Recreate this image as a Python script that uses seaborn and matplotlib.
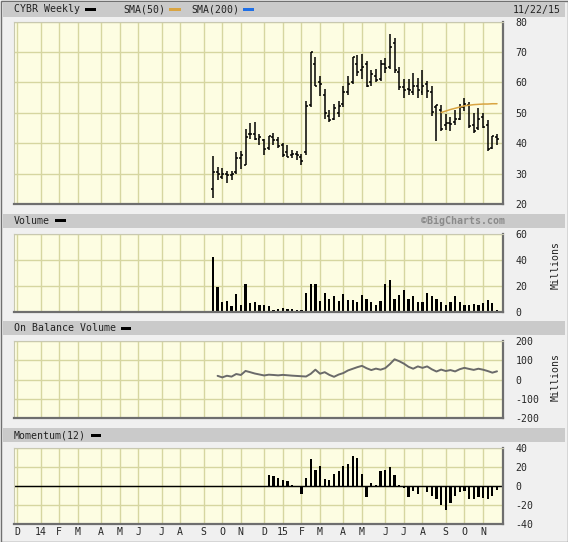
import numpy as np
import pandas as pd
import seaborn as sns
import matplotlib
matplotlib.use("Agg")
import matplotlib.pyplot as plt
from matplotlib.patches import Rectangle

# weekly bars, CYBR since IPO week
weeks = pd.date_range("2014-09-22", periods=62, freq="W-MON")

opens = [25.0, 30.5, 29.0, 30.0, 29.5, 30.5, 35.0, 33.0, 43.0, 43.0, 41.5, 41.0,
         38.5, 42.0, 41.0, 39.5, 37.0, 36.0, 36.5, 35.5, 37.0, 52.5, 66.0, 60.0,
         56.0, 49.0, 48.0, 50.0, 53.0, 57.0, 60.0, 66.0, 64.0, 66.0, 60.0, 62.0,
         61.0, 66.0, 65.0, 73.0, 63.5, 58.5, 58.0, 57.0, 59.0, 57.0, 59.5, 57.0,
         52.0, 51.0, 46.0, 46.5, 47.0, 48.0, 52.0, 52.5, 46.0, 45.0, 48.5, 46.0,
         38.5, 42.0]
highs = [35.8, 32.2, 31.7, 31.0, 30.8, 37.1, 37.6, 44.8, 46.5, 47.0, 43.2, 41.5,
         42.5, 43.5, 42.0, 40.0, 39.3, 37.7, 37.5, 36.6, 54.0, 70.0, 68.5, 62.0,
         58.0, 51.0, 53.0, 54.0, 59.0, 62.0, 68.5, 69.0, 69.5, 67.0, 64.0, 64.5,
         67.5, 68.0, 76.0, 74.5, 65.0, 61.0, 61.0, 63.0, 61.5, 64.0, 60.5, 59.0,
         52.5, 52.5, 49.5, 48.5, 51.0, 53.0, 55.0, 53.5, 50.0, 51.5, 50.0, 47.5,
         42.5, 43.0]
lows = [22.1, 27.8, 28.3, 27.0, 28.0, 30.0, 31.6, 32.7, 41.5, 41.0, 39.3, 36.0,
        37.7, 39.3, 38.5, 35.5, 35.5, 35.0, 34.5, 32.7, 36.0, 52.0, 59.0, 55.5,
        48.0, 47.0, 47.5, 48.5, 52.0, 56.0, 59.5, 62.0, 61.0, 58.5, 59.0, 60.0,
        60.5, 63.0, 64.5, 63.0, 57.5, 55.0, 56.0, 56.0, 55.0, 56.0, 55.0, 49.0,
        40.7, 44.0, 44.5, 44.0, 46.0, 47.5, 50.5, 45.0, 43.5, 44.5, 45.0, 37.5,
        38.0, 39.5]
closes = [30.5, 30.0, 30.0, 29.5, 30.0, 35.0, 36.0, 42.0, 43.0, 41.5, 42.0, 38.0,
          42.4, 40.9, 39.1, 36.2, 35.6, 36.4, 36.0, 34.0, 52.1, 69.9, 59.0, 59.4,
          50.1, 47.6, 51.7, 52.3, 57.0, 59.6, 68.3, 63.5, 65.1, 59.0, 62.9, 60.8,
          66.2, 64.8, 71.7, 64.2, 58.4, 57.5, 57.4, 58.9, 57.4, 59.0, 57.3, 50.3,
          52.5, 44.8, 46.8, 46.3, 47.9, 51.9, 52.8, 45.6, 44.1, 48.1, 45.4, 38.0,
          42.3, 41.5]
sma50 = [50.1, 50.6, 51.1, 51.5, 51.9, 52.3, 52.5, 52.7, 52.8, 52.9, 52.9, 53.0, 53.0]

volume = [42.5, 19.0, 7.3, 8.0, 4.2, 13.3, 5.2, 21.0, 6.5, 7.3, 5.2, 5.2,
          4.2, 1.5, 2.0, 2.6, 2.0, 2.0, 1.5, 1.5, 14.0, 21.0, 21.0, 7.8,
          14.0, 10.0, 11.7, 7.8, 13.3, 8.6, 8.6, 7.3, 12.5, 9.4, 7.3, 5.2,
          7.8, 21.7, 24.8, 10.0, 12.5, 16.4, 10.0, 11.7, 7.3, 7.3, 14.6, 11.7,
          10.0, 7.3, 5.2, 7.3, 11.7, 7.3, 5.2, 5.2, 6.0, 4.7, 6.8, 8.6,
          6.8, 1.3]
obv = [19.0, 11.0, 19.5, 15.0, 28.5, 23.5, 44.5, 38.0, 31.0, 26.0, 21.0,
       25.0, 23.5, 21.5, 24.0, 22.0, 20.0, 18.5, 17.0, 15.5, 29.5, 51.0, 30.0,
       38.0, 24.0, 14.0, 25.7, 33.5, 47.0, 55.5, 64.0, 71.0, 58.5, 49.0, 56.5,
       51.0, 59.0, 80.0, 105.0, 95.0, 82.5, 66.0, 56.0, 68.0, 60.5, 68.0, 53.0,
       41.5, 51.5, 44.0, 49.0, 42.0, 53.5, 60.5, 55.0, 50.0, 56.0, 51.0, 44.0,
       35.5, 42.5]
momentum = [11.9, 10.9, 9.1, 6.7, 5.6, 1.4, 0.0, -8.0, 9.1, 28.4, 17.2, 21.4,
            7.7, 6.7, 12.6, 16.1, 21.4, 23.2, 32.3, 29.5, 13.0, -10.9, 3.9, 1.4,
            16.1, 17.2, 20.0, 11.9, 1.4, -2.1, -10.9, -4.6, -7.7, 0.0, -5.6, -10.5,
            -13.7, -20.0, -24.9, -17.9, -10.5, -5.6, -4.6, -13.3, -13.3, -10.9, -11.9, -13.3,
            -10.2, -4.2]

month_labels = ["D", "14", "F", "M", "A", "M", "J", "J", "A", "S", "O", "N",
                "D", "15", "F", "M", "A", "M", "J", "J", "A", "S", "O", "N"]

# gridline = first monday after the 1st of each month
month_starts = pd.date_range("2013-12-01", periods=24, freq="MS")
month_x = []
for m in month_starts:
    d = m + pd.Timedelta(days=1)
    month_x.append(d + pd.Timedelta(days=(7 - d.weekday()) % 7))

sns.set_style("white")
plt.rcParams["font.family"] = ["DejaVu Sans Mono"]

W, H = 568, 542
fig = plt.figure(figsize=(W / 100, H / 100), dpi=100)
fig.patch.set_facecolor("#f0f0f0")

BG = "#fdfde2"
GRID = "#d6d6a0"
HEAD = "#cacaca"
FS = 7.1


def header(top, bottom):
    fig.add_artist(Rectangle((3 / W, 1 - bottom / H), 562 / W, (bottom - top) / H,
                             transform=fig.transFigure, facecolor=HEAD, edgecolor="none"))


def dash(x0, x1, y, color):
    fig.add_artist(Rectangle((x0 / W, 1 - (y + 1.5) / H), (x1 - x0) / W, 3 / H,
                             transform=fig.transFigure, facecolor=color, edgecolor="none"))


def label(x, y, s, **kw):
    fig.text(x / W, 1 - y / H, s, fontsize=FS, va="center", **kw)


def panel(top, bottom, ylim, yticks, yfmt=None):
    ax = fig.add_axes([14 / W, 1 - bottom / H, 489 / W, (bottom - top) / H])
    ax.set_facecolor(BG)
    ax.set_xlim(weeks[0] - pd.Timedelta(days=299), weeks[0] + pd.Timedelta(days=436))
    ax.set_ylim(*ylim)
    ax.set_yticks(yticks)
    ax.set_yticklabels([str(t) for t in yticks] if yfmt is None else yfmt, fontsize=FS)
    ax.yaxis.tick_right()
    ax.set_xticks(month_x)
    ax.set_xticklabels([])
    ax.tick_params(length=0, pad=9)
    ax.grid(True, color=GRID, lw=1)
    ax.set_axisbelow(True)
    for s in ["top", "left"]:
        ax.spines[s].set_color("#c8c8b0")
        ax.spines[s].set_linewidth(0.8)
    for s in ["bottom", "right"]:
        ax.spines[s].set_color("#6e6e6e")
        ax.spines[s].set_linewidth(1.6)
    return ax


# outer border
fig.add_artist(Rectangle((0.5 / W, 0.5 / H), (W - 1) / W, (H - 1) / H, transform=fig.transFigure,
                         facecolor="none", edgecolor="#707070", lw=1))

# price panel
header(2, 17)
label(14, 9.5, "CYBR Weekly", color="#222222")
dash(85, 96, 9.5, "black")
label(123, 9.5, "SMA(50)", color="#222222")
dash(169, 181, 9.5, "#d9a441")
label(191, 9.5, "SMA(200)", color="#222222")
dash(243, 254, 9.5, "#1f6fe6")
label(561, 9.5, "11/22/15", color="#222222", ha="right")

ax_p = panel(21.7, 204, (20, 80), list(range(20, 81, 10)))
tick = pd.Timedelta(days=3)
ax_p.vlines(weeks, lows, highs, color="black", lw=1.1)
ax_p.hlines(opens, weeks - tick, weeks, color="black", lw=1.1)
ax_p.hlines(closes, weeks, weeks + tick, color="black", lw=1.1)
sns.lineplot(x=weeks[49:], y=sma50, ax=ax_p, color="#d9a441", lw=1.1, legend=False)
ax_p.set_xlabel("")
ax_p.set_ylabel("")

# volume panel
header(214, 228)
label(14, 221, "Volume", color="#222222")
dash(55, 66, 221, "black")
label(505, 221, "\u00a9BigCharts.com", color="#8a8a8a", ha="right", fontweight="bold")
ax_v = panel(234.3, 311.5, (0, 60), [0, 20, 40, 60])
ax_v.bar(weeks, volume, width=3.4, color="black", linewidth=0, antialiased=False)
fig.text(556 / W, 1 - 265 / H, "Millions", fontsize=FS, rotation=90, ha="center", va="center",
         color="#222222")

# on balance volume panel
header(321, 335)
label(14, 328, "On Balance Volume", color="#222222")
dash(121, 131, 328, "black")
ax_o = panel(341, 418, (-200, 200), [-200, -100, 0, 100, 200])
sns.lineplot(x=weeks[1:], y=obv, ax=ax_o, color="#6a6a6a", lw=1.4, legend=False)
ax_o.set_xlabel("")
ax_o.set_ylabel("")
fig.text(556 / W, 1 - 377 / H, "Millions", fontsize=FS, rotation=90, ha="center", va="center",
         color="#222222")

# momentum panel
header(428, 442)
label(14, 435, "Momentum(12)", color="#222222")
dash(91, 101, 435, "black")
ax_m = panel(448.3, 524.3, (-40, 40), [-40, -20, 0, 20, 40])
ax_m.axhline(0, color="black", lw=1)
ax_m.bar(weeks[12:], momentum, width=3.4, color="black", linewidth=0, antialiased=False)
ax_m.set_xticklabels(month_labels, fontsize=FS)
ax_m.tick_params(axis="x", pad=2)

fig.savefig("out.png", dpi=100, facecolor=fig.get_facecolor())
